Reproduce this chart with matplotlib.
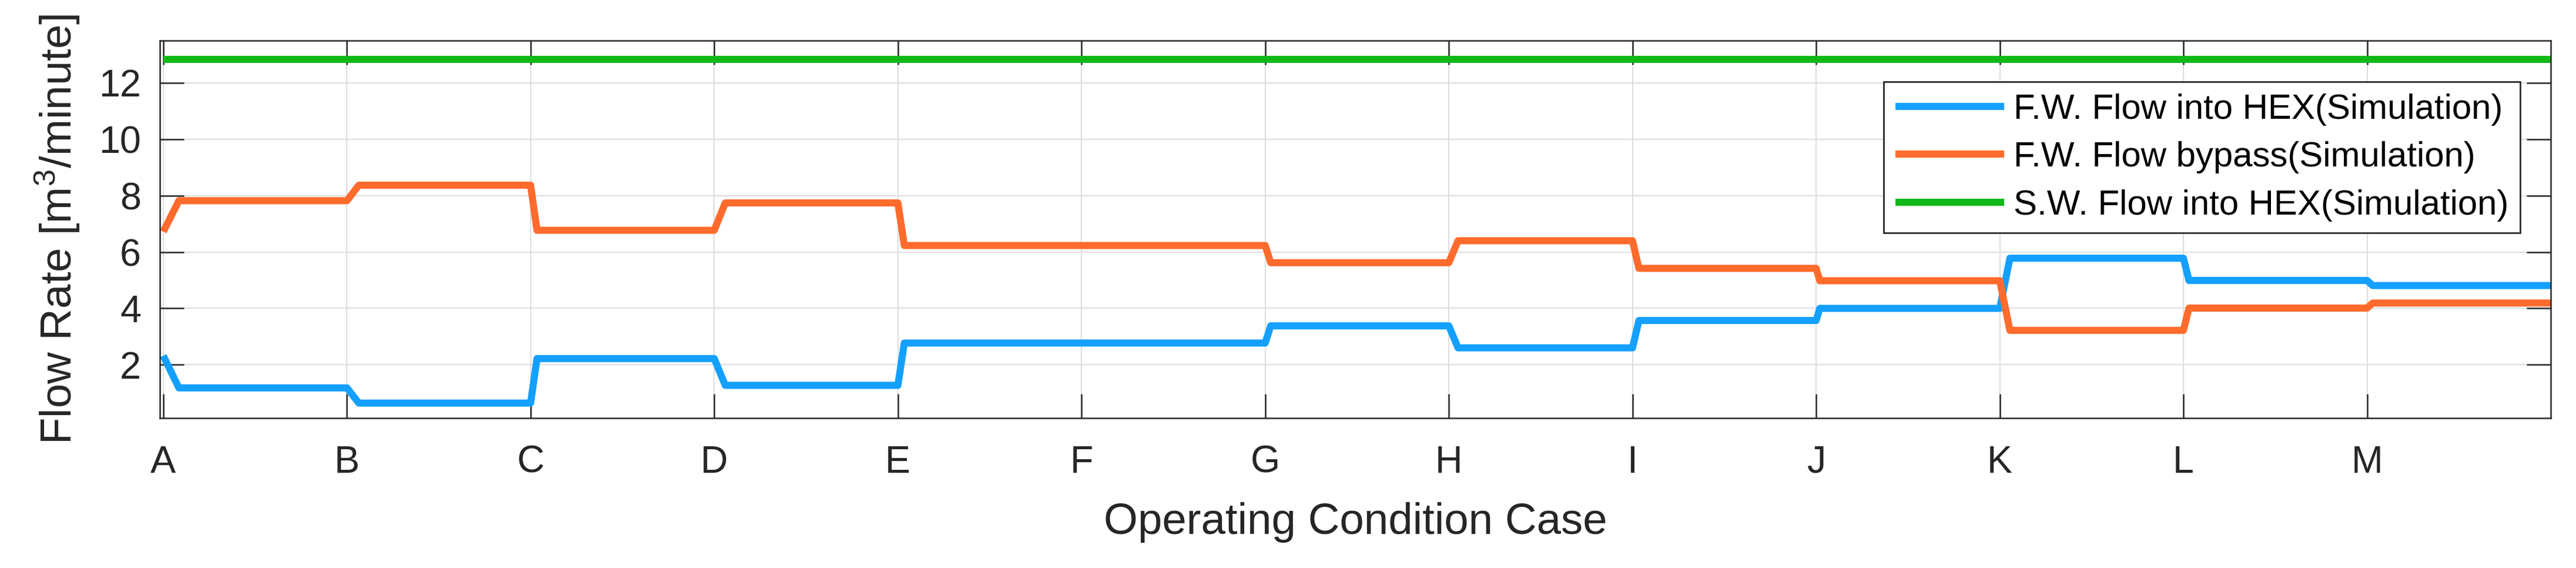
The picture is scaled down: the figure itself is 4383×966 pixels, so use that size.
import numpy as np
import matplotlib
matplotlib.use('Agg')
import matplotlib.pyplot as plt

plt.rcParams['font.family'] = ['Liberation Sans', 'DejaVu Sans']
plt.rcParams['mathtext.default'] = 'regular'

# operating cases on the x axis (one unit per case)
cases = ['A', 'B', 'C', 'D', 'E', 'F', 'G', 'H', 'I', 'J', 'K', 'L', 'M']

# flow levels reached after each case change [m3/minute]
fw_hex_start = 2.32
fw_hex = [1.18, 0.64, 2.22, 1.27, 2.77, 2.77, 3.38, 2.60, 3.57, 4.00, 5.78, 4.99, 4.81]
fw_bypass_start = 6.72
fw_bypass = [7.82, 8.37, 6.77, 7.74, 6.23, 6.23, 5.62, 6.40, 5.42, 4.98, 3.22, 4.01, 4.19]
sw_hex = 12.83

# how long each change takes (in case units)
ramp = [0.085, 0.065, 0.035, 0.06, 0.035, 0.0, 0.03, 0.05, 0.035, 0.02, 0.055, 0.03, 0.03]
x_end = 13.0


def build_series(start, levels):
    xs, ys = [0.0], [start]
    prev = start
    for i, (lev, w) in enumerate(zip(levels, ramp)):
        if i > 0:
            xs.append(i)
            ys.append(prev)
        xs.append(i + w)
        ys.append(lev)
        prev = lev
    xs.append(x_end)
    ys.append(prev)
    return np.array(xs), np.array(ys)


fig = plt.figure(figsize=(4383 / 300, 966 / 300), dpi=300)
ax = fig.add_axes([0.0621, 0.2640, 0.9281, 0.6646])

lw = 2.9
x1, y1 = build_series(fw_hex_start, fw_hex)
x2, y2 = build_series(fw_bypass_start, fw_bypass)
ax.plot(x1, y1, color='#14A0FF', lw=lw, solid_joinstyle='round',
        solid_capstyle='butt', label='F.W. Flow into HEX(Simulation)')
ax.plot(x2, y2, color='#FF6B2C', lw=lw, solid_joinstyle='round',
        solid_capstyle='butt', label='F.W. Flow bypass(Simulation)')
ax.plot([0, x_end], [sw_hex, sw_hex], color='#10B818', lw=lw,
        solid_capstyle='butt', label='S.W. Flow into HEX(Simulation)')

ax.set_xlim(-0.018, x_end)
ax.set_ylim(0.11, 13.5)
ax.set_xticks(range(len(cases)))
ax.set_xticklabels(cases)
ax.set_yticks([2, 4, 6, 8, 10, 12])

dark = '#262626'
ax.grid(True, color='#dedede', lw=0.5)
ax.set_axisbelow(True)
for s in ax.spines.values():
    s.set_color(dark)
    s.set_linewidth(0.6)
ax.tick_params(axis='both', direction='in', length=9.8, width=0.6, color=dark,
               labelcolor=dark, labelsize=15.5, top=True, right=True)
ax.tick_params(axis='x', pad=11)
ax.tick_params(axis='y', pad=7.7)

ax.set_xlabel('Operating Condition Case', fontsize=17.9, color=dark, labelpad=9)
ax.set_ylabel('Flow Rate [m$^3$/minute]', fontsize=17.9, color=dark, labelpad=7)

leg = ax.legend(loc='upper right', bbox_to_anchor=(0.9872, 0.891), borderaxespad=0,
                fontsize=14.4, fancybox=False, framealpha=1, edgecolor=dark,
                handlelength=3.09, handletextpad=0.26, labelspacing=0.44,
                borderpad=0.33)
leg.get_frame().set_linewidth(0.65)

fig.savefig('out.png', dpi=300)
